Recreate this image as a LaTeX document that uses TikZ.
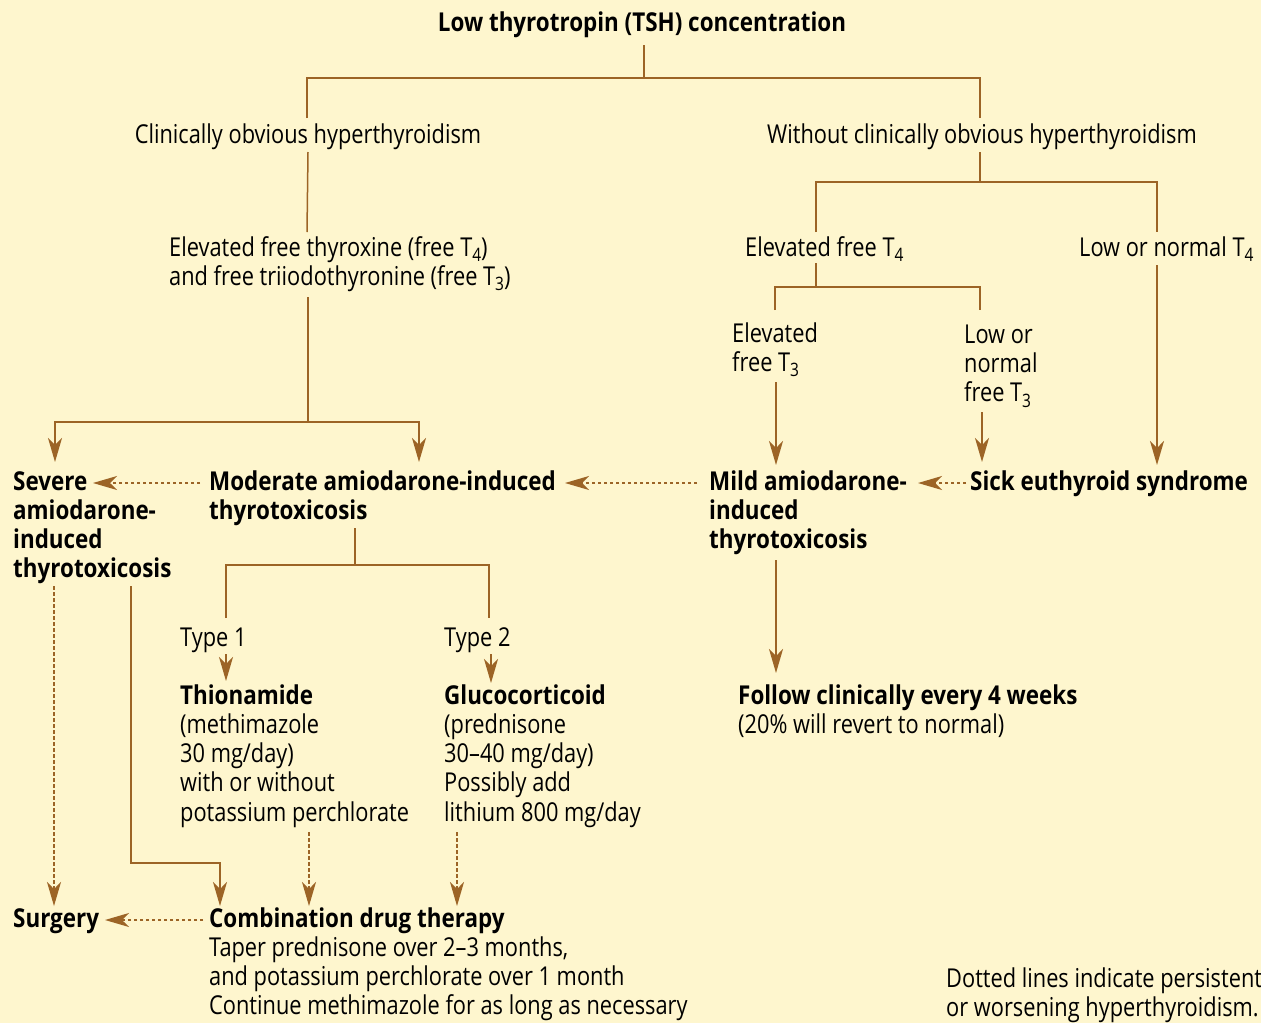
\documentclass[tikz,border=0pt]{standalone}
\usepackage{fontspec}
\setmainfont{Open Sans}[FakeStretch=0.838, BoldFeatures={FakeStretch=0.862}]
\usetikzlibrary{arrows.meta}
\definecolor{bgc}{RGB}{254,246,206}
\definecolor{lnc}{RGB}{156,100,38}
\newcommand\ml[1]{\vtop{\halign{##\hfil\cr#1\crcr}}}
\newcommand\sbs[1]{\raisebox{-5.5pt}{\fontsize{18.5}{18.5}\selectfont#1}}
\begin{document}
\begin{tikzpicture}[x=1pt,y=-1pt,
  txt/.style={anchor=base west, inner sep=0pt, text=black, font=\fontsize{26}{29.3}\selectfont},
  bt/.style={txt, font=\fontsize{26}{29.3}\selectfont\bfseries},
  ln/.style={draw=lnc, line width=1.5pt},
  arr/.style={ln, -{Stealth[length=24pt,width=14pt,inset=7pt]}},
  dotarr/.style={arr, line width=1.3pt, dash pattern=on 3.5pt off 2.5pt}]
\fill[bgc] (0,0) rectangle (1261,1023);
\useasboundingbox (0,0) rectangle (1261,1023);
% text nodes
\node[bt, anchor=base] (title) at (642,31) {Low thyrotropin (TSH) concentration};
\node[txt, anchor=base] (clin) at (308,143) {Clinically obvious hyperthyroidism};
\node[txt, anchor=base] (without) at (982,143) {Without clinically obvious hyperthyroidism};
\node[txt] (eft) at (169,256) {\ml{Elevated free thyroxine (free T\sbs{4})\cr and free triiodothyronine (free T\sbs{3})}};
\node[txt] (eft4) at (745,256) {Elevated free T\sbs{4}};
\node[txt] (lnt4) at (1079,256) {Low or normal T\sbs{4}};
\node[txt] (eft3) at (732,342) {\ml{Elevated\cr free T\sbs{3}}};
\node[txt] (lnt3) at (964,343) {\ml{Low or\cr normal\cr free T\sbs{3}}};
\node[bt] (severe) at (13,490) {\ml{Severe\cr amiodarone-\cr induced\cr thyrotoxicosis}};
\node[bt] (moderate) at (209,490) {\ml{Moderate amiodarone-induced\cr thyrotoxicosis}};
\node[bt] (mild) at (709,490) {\ml{Mild amiodarone-\cr induced\cr thyrotoxicosis}};
\node[bt] (sick) at (970,490) {Sick euthyroid syndrome};
\node[txt] (type1) at (180,646) {Type 1};
\node[txt] (type2) at (444,646) {Type 2};
\node[txt] (thio) at (180,704) {\ml{\textbf{Thionamide}\cr (methimazole\cr 30 mg/day)\cr with or without\cr potassium perchlorate}};
\node[txt] (gluco) at (444,704) {\ml{\textbf{Glucocorticoid}\cr (prednisone\cr 30--40 mg/day)\cr Possibly add\cr lithium 800 mg/day}};
\node[txt] (follow) at (738,704) {\ml{\textbf{Follow clinically every 4 weeks}\cr (20\% will revert to normal)}};
\node[bt] (surgery) at (13,927) {Surgery};
\node[txt] (combo) at (209,927) {\ml{\textbf{Combination drug therapy}\cr Taper prednisone over 2--3 months,\cr and potassium perchlorate over 1 month\cr Continue methimazole for as long as necessary}};
\node[txt] (note) at (946,987) {\ml{Dotted lines indicate persistent\cr or worsening hyperthyroidism.}};
% connector coordinates
\coordinate (t0) at (644,45);
\coordinate (t1) at (644,78);
\coordinate (cL) at (307,118);
\coordinate (cR) at (980,118);
\coordinate (c1) at (308,152);
\coordinate (c2) at (307,232);
\coordinate (e1) at (308,297);
\coordinate (e2) at (308,422);
\coordinate (sv) at (55,462);
\coordinate (md) at (419,462);
\coordinate (w1) at (980,152);
\coordinate (w2) at (980,182);
\coordinate (f4) at (816,232);
\coordinate (l4) at (1157,232);
\coordinate (f4b) at (816,263);
\coordinate (f4c) at (816,287);
\coordinate (f3) at (775,310);
\coordinate (n3) at (980,310);
\coordinate (f3b) at (776,382);
\coordinate (f3c) at (776,465);
\coordinate (n3b) at (982,412);
\coordinate (n3c) at (982,462);
\coordinate (l4b) at (1157,265);
\coordinate (l4c) at (1157,465);
\coordinate (mdL) at (200,483);
\coordinate (svR) at (93,483);
\coordinate (miL) at (697,483);
\coordinate (mdR) at (565,483);
\coordinate (skL) at (966,483);
\coordinate (miR) at (918,483);
\coordinate (m1) at (355,528);
\coordinate (m2) at (355,565);
\coordinate (ty1) at (226,618);
\coordinate (ty2) at (489,618);
\coordinate (ty1b) at (226,654);
\coordinate (ty1c) at (226,681);
\coordinate (ty2b) at (491,654);
\coordinate (ty2c) at (491,683);
\coordinate (mi1) at (776,560);
\coordinate (mi2) at (776,673);
\coordinate (sv1) at (54,586);
\coordinate (sv2) at (54,906);
\coordinate (sv3) at (131,586);
\coordinate (sv4) at (131,863);
\coordinate (cb1) at (220,906);
\coordinate (th1) at (309,832);
\coordinate (th2) at (309,906);
\coordinate (gl1) at (457,832);
\coordinate (gl2) at (457,906);
\coordinate (cbL) at (203,920);
\coordinate (suR) at (105,920);
% connectors
\draw[ln] (t0) -- (t1);
\draw[ln] (cL) |- (t1) -| (cR);
\draw[ln] (c1) -- (c2);
\draw[ln] (e1) -- (e2);
\draw[arr] (e2) -| (sv);
\draw[arr] (e2) -| (md);
\draw[ln] (w1) -- (w2);
\draw[ln] (f4) |- (w2) -| (l4);
\draw[ln] (f4b) -- (f4c);
\draw[ln] (f3) |- (f4c) -| (n3);
\draw[arr] (f3b) -- (f3c);
\draw[arr] (n3b) -- (n3c);
\draw[arr] (l4b) -- (l4c);
\draw[dotarr] (mdL) -- (svR);
\draw[dotarr] (miL) -- (mdR);
\draw[dotarr] (skL) -- (miR);
\draw[ln] (m1) -- (m2);
\draw[ln] (ty1) |- (m2) -| (ty2);
\draw[arr] (ty1b) -- (ty1c);
\draw[arr] (ty2b) -- (ty2c);
\draw[arr] (mi1) -- (mi2);
\draw[dotarr] (sv1) -- (sv2);
\draw[arr] (sv3) -- (sv4) -| (cb1);
\draw[dotarr] (th1) -- (th2);
\draw[dotarr] (gl1) -- (gl2);
\draw[dotarr] (cbL) -- (suR);
\end{tikzpicture}
\end{document}
